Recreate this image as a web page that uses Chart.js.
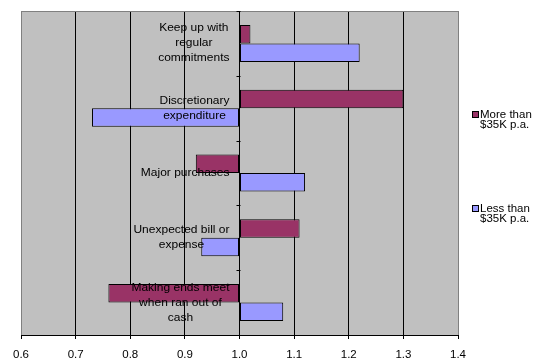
<!DOCTYPE html>
<html>
<head>
<meta charset="utf-8">
<script src="https://cdn.jsdelivr.net/npm/chart.js@4.4.1/dist/chart.umd.min.js"></script>
<style>
  html, body { margin: 0; padding: 0; background: #ffffff; }
  #wrap { width: 539px; height: 359px; }
</style>
</head>
<body>
<div id="wrap"><canvas id="c" width="539" height="359"></canvas></div>
<script>
// Reasons for borrowing, index relative to 1.0 (bars grow from the 1.0 baseline)
const categories = [
  ["Keep up with", "regular", "commitments"],
  ["Discretionary", "expenditure"],
  ["Major purchases"],
  ["Unexpected bill or", "expense"],
  ["Making ends meet", "when ran out of", "cash"]
];
const seriesNames = [
  ["More than", "$35K p.a."],
  ["Less than", "$35K p.a."]
];
const moreThan35K = [1.02, 1.30, 0.92, 1.11, 0.76];
const lessThan35K = [1.22, 0.73, 1.12, 0.93, 1.08];
const xTicks = [0.6, 0.7, 0.8, 0.9, 1.0, 1.1, 1.2, 1.3, 1.4];
const baseline = 1.0;

const FONT = '"Liberation Sans", Arial, sans-serif';
const MAROON = '#993366';
const LILAC = '#9999FF';

// Text in this chart is slightly compressed vertically
function squashText(ctx, text, x, y, align) {
  ctx.save();
  ctx.translate(x, y);
  ctx.scale(1, 0.9);
  ctx.textAlign = align;
  ctx.textBaseline = 'middle';
  ctx.fillText(text, 0, 0);
  ctx.restore();
}

const plotFrame = {
  id: 'plotFrame',
  beforeDraw(chart) {
    const { ctx, chartArea: a } = chart;
    ctx.save();
    ctx.fillStyle = '#C0C0C0';
    ctx.fillRect(a.left, a.top, a.right - a.left, a.bottom - a.top);
    ctx.restore();
  },
  beforeDatasetsDraw(chart) {
    const { ctx, chartArea: a } = chart;
    ctx.save();
    ctx.strokeStyle = '#808080';
    ctx.lineWidth = 1;
    ctx.beginPath();
    ctx.moveTo(a.left, a.top + 0.5);
    ctx.lineTo(a.right, a.top + 0.5);
    ctx.stroke();
    ctx.restore();
  },
  afterDatasetsDraw(chart) {
    const { ctx } = chart;
    const xs = chart.scales.x, ys = chart.scales.y;
    const axisX = Math.round(xs.getPixelForValue(baseline)) + 0.5;
    ctx.save();
    // category axis tick marks at group boundaries
    ctx.strokeStyle = '#000';
    ctx.lineWidth = 1;
    ctx.beginPath();
    for (let i = 0; i <= categories.length; i++) {
      const y = Math.round(ys.getPixelForValue(i - 0.5)) + 0.5;
      ctx.moveTo(axisX - 4, y);
      ctx.lineTo(axisX, y);
    }
    ctx.stroke();
    // category labels, centred block set just left of the baseline axis
    ctx.fillStyle = '#000';
    ctx.font = '12px ' + FONT;
    const lineH = 15;
    categories.forEach((lines, i) => {
      const cy = ys.getPixelForValue(i);
      const maxW = Math.max(...lines.map(l => ctx.measureText(l).width));
      const cx = axisX - 11 - maxW / 2;
      lines.forEach((l, j) => {
        const y = cy + (j - (lines.length - 1) / 2) * lineH;
        squashText(ctx, l, cx, y, 'center');
      });
    });
    ctx.restore();
  },
  afterDraw(chart) {
    const { ctx } = chart;
    ctx.save();
    ctx.font = '11.5px ' + FONT;
    ctx.fillStyle = '#000';
    const tops = [115, 209];
    chart.data.datasets.forEach((ds, i) => {
      const y = tops[i];
      ctx.fillStyle = ds.backgroundColor;
      ctx.fillRect(472, y - 3, 6, 6);
      ctx.strokeStyle = '#000';
      ctx.lineWidth = 1;
      ctx.strokeRect(472.5, y - 3.5, 6, 6);
      ctx.fillStyle = '#000';
      seriesNames[i].forEach((t, j) => {
        squashText(ctx, t, 480, y + j * 10, 'left');
      });
    });
    ctx.restore();
  }
};

const chart = new Chart(document.getElementById('c'), {
  type: 'bar',
  data: {
    labels: categories.map(c => c.join(' ')),
    datasets: [
      {
        label: seriesNames[0].join(' '),
        data: moreThan35K,
        base: baseline,
        backgroundColor: MAROON,
        borderColor: '#000',
        borderWidth: 1,
        borderSkipped: false
      },
      {
        label: seriesNames[1].join(' '),
        data: lessThan35K,
        base: baseline,
        backgroundColor: LILAC,
        borderColor: '#000',
        borderWidth: 1,
        borderSkipped: false
      }
    ]
  },
  options: {
    indexAxis: 'y',
    responsive: false,
    animation: false,
    devicePixelRatio: 1,
    categoryPercentage: 0.571,
    barPercentage: 1.0,
    layout: { padding: { left: 21, right: 81, top: 11, bottom: 0 } },
    plugins: {
      legend: { display: false },
      tooltip: { enabled: false },
      title: { display: false }
    },
    scales: {
      x: {
        type: 'linear',
        min: xTicks[0],
        max: xTicks[xTicks.length - 1],
        afterBuildTicks(scale) {
          scale.ticks = xTicks.map(v => ({ value: v }));
        },
        afterFit(scale) { scale.height = 24; },
        ticks: {
          color: '#000',
          font: { family: FONT, size: 11.5 },
          padding: 9,
          maxRotation: 0,
          callback: v => Number(v).toFixed(1)
        },
        grid: {
          color: c => (c.tick && (Math.abs(c.tick.value - 0.6) < 1e-6 || Math.abs(c.tick.value - 1.4) < 1e-6)) ? '#808080' : '#000',
          lineWidth: 1,
          drawTicks: true,
          tickLength: 4,
          tickColor: '#000'
        },
        border: { display: true, color: '#000', width: 1 }
      },
      y: {
        type: 'category',
        display: false,
        offset: true,
        grid: { display: false }
      }
    }
  },
  plugins: [plotFrame]
});
</script>
</body>
</html>
